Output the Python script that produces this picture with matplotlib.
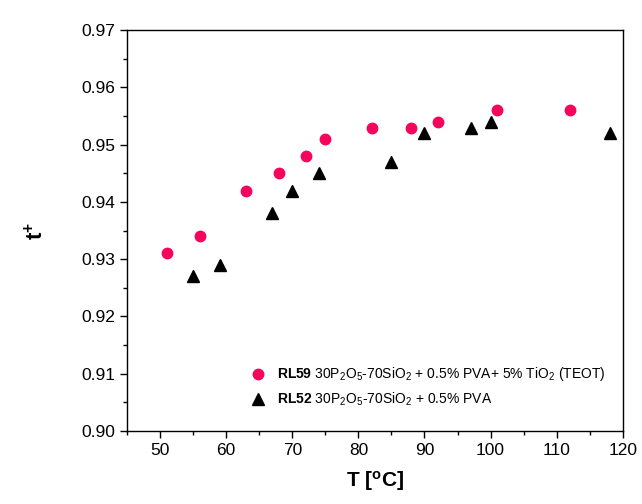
import matplotlib
matplotlib.use("Agg")
import matplotlib.pyplot as plt
from matplotlib.ticker import MultipleLocator

plt.rcParams['font.family'] = ['Liberation Sans', 'DejaVu Sans']
plt.rcParams['mathtext.fontset'] = 'custom'
plt.rcParams['mathtext.rm'] = 'Liberation Sans'
plt.rcParams['mathtext.it'] = 'Liberation Sans:italic'
plt.rcParams['mathtext.bf'] = 'Liberation Sans:bold'

# RL59 (pink circles)
t_rl59 = [51, 56, 63, 68, 72, 75, 82, 88, 92, 101, 112]
v_rl59 = [0.931, 0.934, 0.942, 0.945, 0.948, 0.951, 0.953, 0.953, 0.954, 0.956, 0.956]

# RL52 (black triangles)
t_rl52 = [55, 59, 67, 70, 74, 85, 90, 97, 100, 118]
v_rl52 = [0.927, 0.929, 0.938, 0.942, 0.945, 0.947, 0.952, 0.953, 0.954, 0.952]

lab_rl59 = r"$\mathbf{RL59}$ 30P$_2$O$_5$-70SiO$_2$ + 0.5% PVA+ 5% TiO$_2$ (TEOT)"
lab_rl52 = r"$\mathbf{RL52}$ 30P$_2$O$_5$-70SiO$_2$ + 0.5% PVA"

fig = plt.figure(figsize=(6.42, 5.04), dpi=100)
ax = fig.add_axes([0.198, 0.145, 0.772, 0.795])

ax.plot(t_rl59, v_rl59, 'o', color='#f5045e', markersize=7.5, label=lab_rl59)
ax.plot(t_rl52, v_rl52, '^', color='black', markersize=8, label=lab_rl52)

ax.set_xlim(45, 120)
ax.set_ylim(0.90, 0.97)
ax.xaxis.set_major_locator(MultipleLocator(10))
ax.xaxis.set_minor_locator(MultipleLocator(5))
ax.yaxis.set_major_locator(MultipleLocator(0.01))
ax.yaxis.set_minor_locator(MultipleLocator(0.005))
ax.yaxis.set_major_formatter(matplotlib.ticker.FormatStrFormatter('%.2f'))
ax.tick_params(which='major', direction='out', length=5, width=1, labelsize=12.5)
ax.tick_params(which='minor', direction='out', length=3, width=1)
for s in ax.spines.values():
    s.set_linewidth(1)

ax.set_xlabel(r"T [$^{\mathbf{o}}$C]", fontsize=15, fontweight='bold', labelpad=8)
ax.set_ylabel(r"$\mathbf{t^{+}}$", fontsize=16, labelpad=24)

ax.legend(loc='lower left', bbox_to_anchor=(0.224, 0.025), frameon=False,
          fontsize=10, handletextpad=0.9, labelspacing=0.55, handlelength=1.0)

fig.savefig("out.png", dpi=100)
